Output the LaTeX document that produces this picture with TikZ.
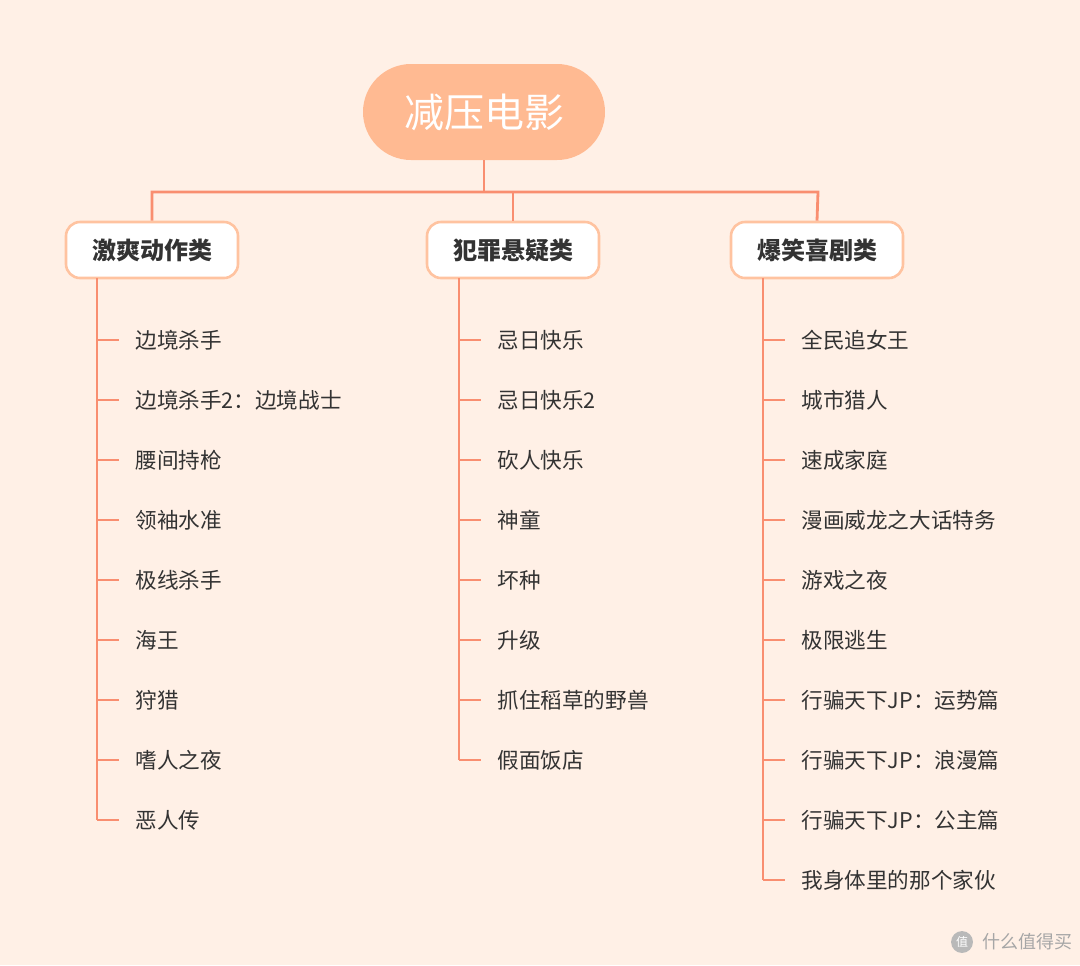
\documentclass[tikz,border=0pt]{standalone}
\usepackage{fontspec}
\setmainfont{Noto Sans CJK SC}
\usetikzlibrary{calc}
\definecolor{bgc}{HTML}{FFF0E6}
\definecolor{linec}{HTML}{F98E70}
\definecolor{rootc}{HTML}{FFBA92}
\definecolor{boxc}{HTML}{FFC3A0}
\definecolor{txtc}{HTML}{333333}
\tikzset{
  catnode/.style={draw=boxc, line width=1.3pt, fill=white, rounded corners=7pt, minimum width=86pt, minimum height=28pt, font=\bfseries\fontsize{12}{14}\selectfont, text=txtc},
  itemnode/.style={anchor=west, inner sep=0pt, font=\fontsize{10.8}{12}\selectfont, text=txtc},
  link/.style={draw=linec, line width=1.4pt}
}
\begin{document}
\begin{tikzpicture}[x=0.5pt,y=-0.5pt]
\fill[bgc] (0,0) rectangle (1080,965);
\useasboundingbox (0,0) rectangle (1080,965);

\node[rectangle, fill=rootc, text=white, minimum width=121pt, minimum height=48pt, rounded corners=24pt, font=\fontsize{20}{24}\selectfont] (root) at (484,112) {减压电影};

\node[catnode] (c1) at (152,250) {激爽动作类};
\node[catnode] (c2) at (513,250) {犯罪悬疑类};
\node[catnode] (c3) at (817,250) {爆笑喜剧类};

\coordinate (h) at (484,192);
\draw[link] (root.south) -- (h);
\draw[link] (c1.north) -- (152,192) -- (818,192) -- (c3.north);
\draw[link] (513,192) -- (c2.north);

% items
\foreach \t [count=\k] in {边境杀手,边境杀手2：边境战士,腰间持枪,领袖水准,极线杀手,海王,狩猎,嗜人之夜,恶人传}
{\coordinate (a\k) at (97,{280+60*\k});
 \node[itemnode] (ta\k) at (135,{280+60*\k}) {\t};
 \draw[link] (a\k) -- ++(22,0);}
\draw[link] (97,278) -- (a9);

\foreach \t [count=\k] in {忌日快乐,忌日快乐2,砍人快乐,神童,坏种,升级,抓住稻草的野兽,假面饭店}
{\coordinate (b\k) at (459,{280+60*\k});
 \node[itemnode] (tb\k) at (497,{280+60*\k}) {\t};
 \draw[link] (b\k) -- ++(22,0);}
\draw[link] (459,278) -- (b8);

\foreach \t [count=\k] in {全民追女王,城市猎人,速成家庭,漫画威龙之大话特务,游戏之夜,极限逃生,行骗天下JP：运势篇,行骗天下JP：浪漫篇,行骗天下JP：公主篇,我身体里的那个家伙}
{\coordinate (d\k) at (763,{280+60*\k});
 \node[itemnode] (td\k) at (801,{280+60*\k}) {\t};
 \draw[link] (d\k) -- ++(22,0);}
\draw[link] (763,278) -- (d10);

% watermark
\node[circle, fill=gray!55, text=white, inner sep=1pt, font=\fontsize{6}{7}\selectfont] (wm) at (962,942) {值};
\node[anchor=west, text=gray!70, font=\fontsize{9}{10}\selectfont] (wt) at (975,942) {什么值得买};
\end{tikzpicture}
\end{document}
